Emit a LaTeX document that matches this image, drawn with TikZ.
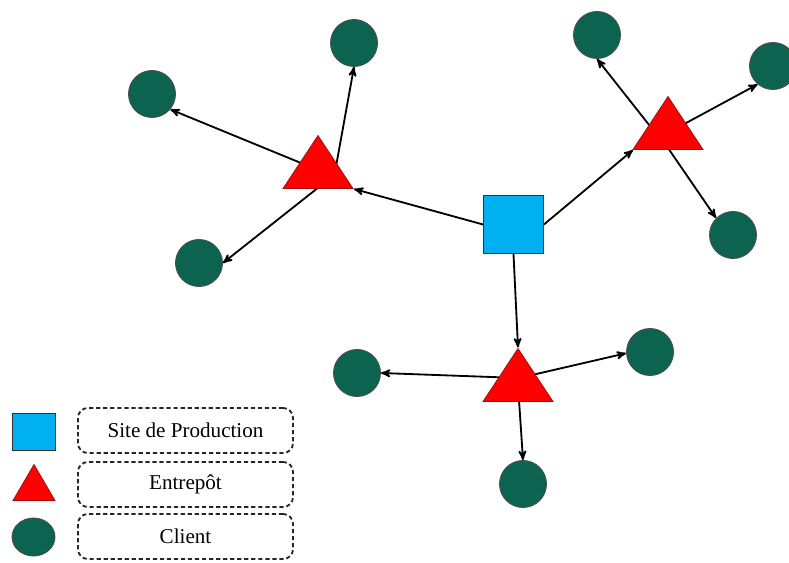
\documentclass[tikz,border=0pt]{standalone}
\usepackage{fontspec}
\setmainfont{Liberation Serif}
\usetikzlibrary{arrows,shapes.geometric,calc,backgrounds}

\definecolor{siteblue}{RGB}{0,176,240}
\definecolor{entred}{RGB}{255,0,0}
\definecolor{entborder}{RGB}{160,20,20}
\definecolor{clientgreen}{RGB}{12,100,80}

\tikzset{
  site/.style={shape=rectangle,draw=black!80,fill=siteblue,line width=0.6pt,
    minimum width=1.5cm,minimum height=1.45cm,inner sep=0pt},
  entrepot/.style={shape=isosceles triangle,shape border rotate=90,
    isosceles triangle stretches,draw=entborder,fill=entred,line width=0.6pt,
    minimum width=1.75cm,minimum height=1.325cm,inner sep=0pt},
  client/.style={shape=circle,draw=black!70,fill=clientgreen,line width=0.6pt,
    minimum size=1.175cm,inner sep=0pt},
  legendbox/.style={draw=black!85,dash pattern=on 3pt off 2pt,rounded corners=7pt,line width=1.3pt,
    minimum width=5.375cm,minimum height=1.125cm,
    font=\fontsize{15}{18}\selectfont}
}

\begin{document}
\begin{tikzpicture}[x=0.025cm,y=-0.025cm,->,>=stealth']
                \useasboundingbox (0,0) rectangle (789,563);
                % site and entrepots
                \node[site](tS)at(513.5, 224.5){};
                \node[entrepot,anchor=lower side](tL)at(318, 189){};
                \node[entrepot,anchor=lower side](tR)at(668, 150){};
                \node[entrepot,anchor=lower side](tB)at(518, 402){};
                % clients
                \node[client](cL1)at(354, 43){};
                \node[client](cL2)at(152, 94){};
                \node[client](cL3)at(199, 263){};
                \node[client](cR1)at(597, 35){};
                \node[client](cR2)at(773, 66){};
                \node[client](cR3)at(733, 235){};
                \node[client](cB1)at(357, 373){};
                \node[client](cB2)at(650, 352){};
                \node[client](cB3)at(523, 484){};
                \begin{pgfonlayer}{background}
                \path[line width=1.3pt](tS.west) edge ($(tL.lower side)+(36,0)$)
                (tS.east) edge ($(tR.lower side)+(-35,0)$)
                (tS.south) edge (tB.apex)
                ($(tL.lower side)+(17,-17)$) edge (cL1.south)
                ($(tL.lower side)+(0,-19)$) edge (cL2.-40)
                ($(tL.lower side)+(1,-2)$) edge (cL3.east)
                ($(tR.lower side)+(-11,-15)$) edge (cR1.south)
                ($(tR.lower side)+(7,-21)$) edge (cR2.230)
                ($(tR.lower side)+(0,-2)$) edge (cR3.135)
                ($(tB.lower side)+(1,-24)$) edge (cB1.east)
                ($(tB.lower side)+(1,-24)$) edge (cB2.183)
                ($(tB.lower side)+(1,-2)$) edge (cB3.north);
                \end{pgfonlayer}
                % legend
                \node[site,minimum width=1.075cm,minimum height=0.925cm](lgS)at(33.5, 431.5){};
                \node[entrepot,anchor=lower side,minimum width=1.05cm,minimum height=0.9cm](lgT)at(34, 501){};
                \node[client,shape=ellipse,minimum width=1.075cm,minimum height=0.95cm](lgC)at(33.5, 537){};
                \node[legendbox](lbS)at(185.5, 430.5){Site de Production};
                \node[legendbox](lbT)at(185.5, 484.5){Entrepôt};
                \node[legendbox](lbC)at(185.5, 536.5){Client};
            \end{tikzpicture}
\end{document}
